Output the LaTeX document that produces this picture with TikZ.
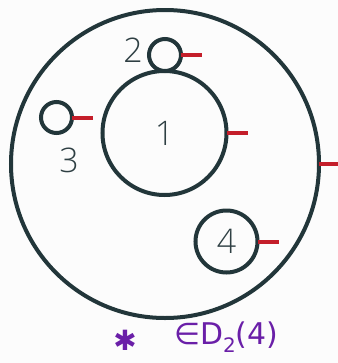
\documentclass[tikz,border=0pt]{standalone}
\usepackage{fontspec}
\setmainfont{Open Sans}[UprightFont=* Light]
\newfontfamily\dejavu{DejaVu Sans}
\begin{document}
\begin{tikzpicture}[x=1bp,y=-1bp,
  ring/.style={circle,draw=ringc,line width=4bp,inner sep=0pt,text=numc,font=\fontsize{34}{34}\selectfont},
  lbl/.style={text=numc,font=\fontsize{34}{34}\selectfont,inner sep=0pt},
  tick/.style={draw=tickc,line width=4bp},
  hand/.style={text=handc,inner sep=0pt}]
\definecolor{ringc}{HTML}{22363A}
\definecolor{numc}{HTML}{2E3F43}
\definecolor{tickc}{HTML}{C41E2A}
\definecolor{handc}{HTML}{6A1FA8}
\fill[white!98!gray] (0,0) rectangle (338,363);
\useasboundingbox (0,0) rectangle (338,363);
\node[ring,minimum size=308bp] (outer) at (165,164) {};
\node[ring,minimum size=124bp] (c1) at (164.5,133) {1};
\node[ring,minimum size=32bp] (c2) at (165,55) {};
\node[ring,minimum size=31bp] (c3) at (56.5,117.5) {};
\node[ring,minimum size=62bp] (c4) at (226.5,241.5) {4};
\node[lbl] (l2) at (133,50) {2};
\node[lbl] (l3) at (69,160) {3};
\draw[tick] ([xshift=-2bp]outer.east) -- ++(21,0);
\draw[tick] ([xshift=-2bp]c1.east) -- ++(21,0);
\draw[tick] ([xshift=-2bp]c2.east) -- ++(21,0);
\draw[tick] ([xshift=-2bp]c3.east) -- ++(21,0);
\draw[tick] ([xshift=-2bp]c4.east) -- ++(21,0);
\node[hand,font=\dejavu\fontsize{28}{28}\selectfont] (star) at (125,340) {✱};
\node[hand,font=\dejavu\fontsize{30}{30}\selectfont,anchor=west] (mem) at (174,337) {∈D\raisebox{-8bp}{\fontsize{20}{20}\selectfont 2}(4)};
\end{tikzpicture}
\end{document}
